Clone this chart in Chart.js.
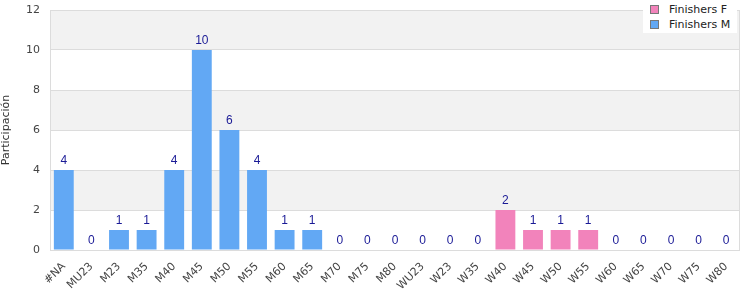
<!DOCTYPE html>
<html>
<head>
<meta charset="utf-8">
<script src="https://cdn.jsdelivr.net/npm/chart.js@4/dist/chart.umd.min.js"></script>
<style>
  html, body { margin: 0; padding: 0; background: #fff; }
  #wrap { position: relative; width: 750px; height: 300px; }
  #legend { position: absolute; left: 643px; top: 0px; width: 94px; height: 33px; background: #fff;
            font-family: "DejaVu Sans", sans-serif; font-size: 11px; color: #222; }
  #legend .item { position: absolute; left: 7px; height: 12px; line-height: 12px; white-space: nowrap; }
  #legend .sw { display: inline-block; width: 7px; height: 7px; border: 1px solid #777; vertical-align: -1px; margin-right: 10px; }
</style>
</head>
<body>
<div id="wrap">
  <canvas id="c" width="750" height="300"></canvas>
  <div id="legend"></div>
</div>
<script>
const categories = ['#NA','MU23','M23','M35','M40','M45','M50','M55','M60','M65','M70','M75','M80',
                    'WU23','W23','W35','W40','W45','W50','W55','W60','W65','W70','W75','W80'];
const finishersM = [4,0,1,1,4,10,6,4,1,1,0,0,0, null,null,null,null,null,null,null,null,null,null,null,null];
const finishersF = [null,null,null,null,null,null,null,null,null,null,null,null,null, 0,0,0,2,1,1,1,0,0,0,0,0];
const yTicks = [0,2,4,6,8,10,12];
const seriesNames = ['Finishers F','Finishers M'];
const seriesColors = ['#f283bb','#62a8f4'];

const bandsPlugin = {
  id: 'bands',
  beforeDraw(chart) {
    const {ctx, chartArea: a, scales: {y}} = chart;
    ctx.save();
    for (let i = 0; i < yTicks.length - 1; i++) {
      const v = yTicks[i];
      if ((v / 2) % 2 === 1) {
        const top = y.getPixelForValue(yTicks[i + 1]);
        const bot = y.getPixelForValue(v);
        ctx.fillStyle = '#f2f2f2';
        ctx.fillRect(a.left, top, a.right - a.left, bot - top);
      }
    }
    ctx.restore();
  },
  afterDatasetsDraw(chart) {
    const {ctx, chartArea: a} = chart;
    ctx.save();
    ctx.strokeStyle = '#dcdcdc';
    ctx.lineWidth = 1;
    ctx.strokeRect(a.left + 0.5, a.top + 0.5, a.right - a.left - 1, a.bottom - a.top);
    ctx.fillStyle = '#1a1a96';
    ctx.font = '12px "Liberation Sans", Arial, sans-serif';
    ctx.textAlign = 'center';
    ctx.textBaseline = 'bottom';
    chart.data.datasets.forEach((ds, di) => {
      const meta = chart.getDatasetMeta(di);
      meta.data.forEach((bar, i) => {
        const v = ds.data[i];
        if (v === null || v === undefined) return;
        ctx.fillText(String(v), bar.x, bar.y - 3);
      });
    });
    ctx.restore();
  }
};

new Chart(document.getElementById('c'), {
  type: 'bar',
  data: {
    labels: categories,
    datasets: [
      { label: seriesNames[0], data: finishersF, backgroundColor: seriesColors[0] },
      { label: seriesNames[1], data: finishersM, backgroundColor: seriesColors[1] }
    ]
  },
  options: {
    responsive: false,
    animation: false,
    layout: { padding: { top: 10, right: 10, left: 0, bottom: 0 } },
    plugins: { legend: { display: false }, tooltip: { enabled: false } },
    datasets: { bar: { categoryPercentage: 0.8, barPercentage: 0.9 } },
    scales: {
      x: {
        stacked: true,
        grid: { display: false },
        border: { display: false },
        ticks: { color: '#444', font: { family: '"DejaVu Sans", sans-serif', size: 11 },
                 minRotation: 45, maxRotation: 45, autoSkip: false, padding: 2 },
        afterFit(s) { s.height = 50; }
      },
      y: {
        stacked: true,
        min: 0, max: 12,
        afterBuildTicks(s) { s.ticks = yTicks.map(v => ({ value: v })); },
        grid: { color: '#dcdcdc', drawTicks: false },
        border: { display: false },
        ticks: { color: '#444', font: { family: '"DejaVu Sans", sans-serif', size: 11 }, padding: 10 },
        title: { display: true, text: 'Participación', color: '#333',
                 font: { family: '"DejaVu Sans", sans-serif', size: 11 }, padding: 0 },
        afterFit(s) { s.width = 50; s.paddingTop = 0; s.paddingBottom = 0; }
      }
    }
  },
  plugins: [bandsPlugin]
});

const lg = document.getElementById('legend');
seriesNames.forEach((n, i) => {
  const d = document.createElement('div');
  d.className = 'item';
  d.style.top = (4 + i * 15) + 'px';
  d.innerHTML = '<span class="sw" style="background:' + seriesColors[i] + '"></span>';
  d.appendChild(document.createTextNode(n));
  lg.appendChild(d);
});
</script>
</body>
</html>
